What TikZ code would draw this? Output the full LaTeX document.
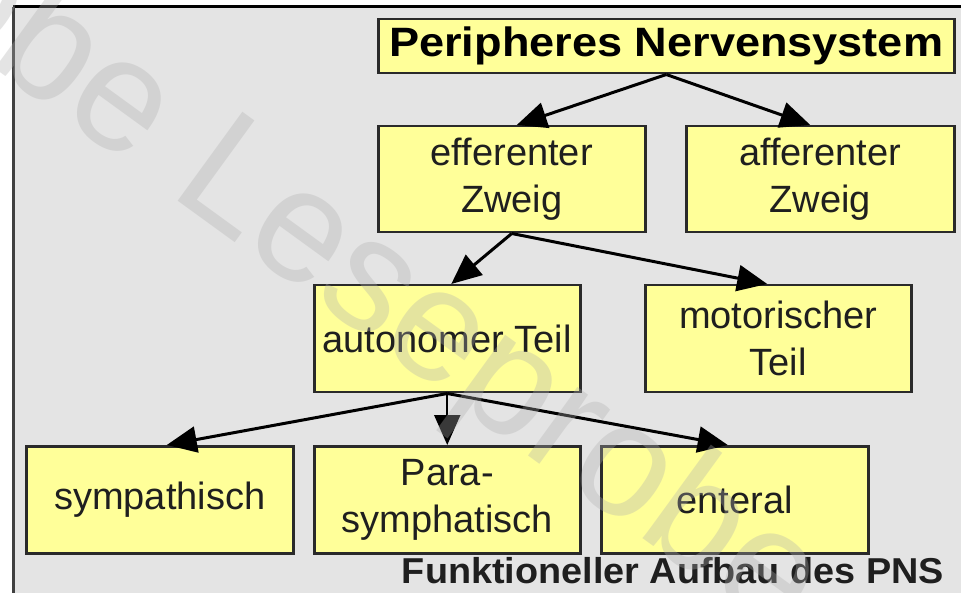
\documentclass[tikz,border=0pt]{standalone}
\usepackage{fontspec}
\setmainfont{Liberation Sans}
\newfontfamily\titlefont{Liberation Sans}[FakeStretch=1.1]
\newfontfamily\capfont{Liberation Sans}[FakeStretch=1.05]
\usetikzlibrary{arrows.meta}
\definecolor{panelbg}{HTML}{E4E4E4}
\definecolor{boxfill}{HTML}{FFFF99}
\definecolor{boxline}{HTML}{2A2A2A}
\definecolor{wmark}{HTML}{AEAEAE}
\tikzset{
  box/.style={draw=boxline, line width=2.5pt, fill=boxfill, inner sep=0pt,
    align=center, anchor=north west, text=black!88,
    font=\fontsize{38}{47}\selectfont},
  arr/.style={-{Triangle[length=30pt,width=26pt]}, line width=3pt, black},
  wm/.style={rotate=-36, text=wmark, opacity=0.33, inner sep=0pt,
    font=\fontsize{160}{160}\selectfont}
}
\begin{document}
\begin{tikzpicture}[x=1pt,y=-1pt]
\fill[white] (0,0) rectangle (961,593);
\useasboundingbox (0,0) rectangle (961,593);
\fill[panelbg] (13,7) rectangle (961,593);
\draw[black, line width=3pt] (13,7) -- (961,7);
\draw[black!75, line width=3pt] (13.5,7) -- (13.5,593);

\node[box, minimum width=576, minimum height=54,
  font=\titlefont\bfseries\fontsize{41}{47}\selectfont, text=black] (pns) at (377,18) {Peripheres Nervensystem};
\node[box, minimum width=267, minimum height=106] (eff) at (377,125) {efferenter\\Zweig};
\node[box, minimum width=268, minimum height=106] (aff) at (685,125) {afferenter\\Zweig};
\node[box, minimum width=266, minimum height=107] (auto) at (313,284) {autonomer Teil};
\node[box, minimum width=266, minimum height=107] (mot) at (644,284) {motorischer\\Teil};
\node[box, minimum width=267, minimum height=107] (sym) at (25,445) {sympathisch};
\node[box, minimum width=266, minimum height=107] (para) at (313,445) {Para-\\symphatisch};
\node[box, minimum width=267, minimum height=107] (ent) at (600,445) {enteral};

\draw[arr] (pns.south) -- ([xshift=5pt]eff.north);
\draw[arr] (pns.south) -- ([xshift=-10pt]aff.north);
\draw[arr] (eff.south) -- ([xshift=4pt]auto.north);
\draw[arr] (eff.south) -- ([xshift=-11pt]mot.north);
\draw[arr] (auto.south) -- ([xshift=7pt]sym.north);
\draw[arr, line width=2pt] (auto.south) -- (para.north);
\draw[arr] (auto.south) -- ([xshift=-7pt]ent.north);

\node[anchor=base east, inner sep=0pt, text=black!88,
  font=\capfont\bfseries\fontsize{36}{40}\selectfont] (cap) at (944,583) {Funktioneller Aufbau des PNS};

\begin{scope}
\clip (0,0) rectangle (961,593);
\node[wm, anchor=base west] (wm2) at (167,193) {Leseprobe};
\node[wm, anchor=base east] (wm1) at (131,167) {Leseprobe};
\end{scope}
\end{tikzpicture}
\end{document}
